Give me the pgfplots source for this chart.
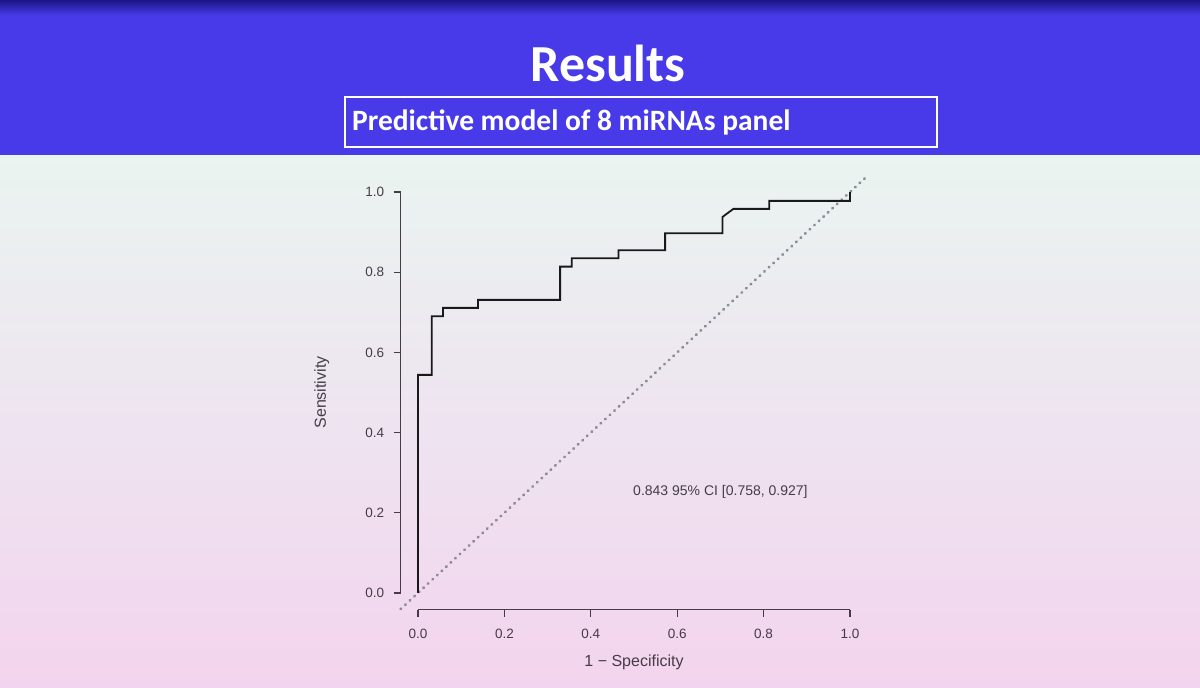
\documentclass[border=0pt]{standalone}
\usepackage{pgfplots}
\pgfplotsset{compat=1.18}
\usepackage{fontspec}
\setmainfont{Liberation Sans}
\newfontfamily\calibri{Carlito}
\definecolor{banner}{RGB}{72,58,232}
\definecolor{bannertop}{RGB}{40,30,190}
\definecolor{bgtop}{RGB}{234,244,240}
\definecolor{bgmid}{RGB}{238,228,240}
\definecolor{bgbot}{RGB}{243,212,238}
\definecolor{axgray}{RGB}{70,60,70}
\definecolor{dotgray}{RGB}{140,140,150}
\begin{document}
\begin{tikzpicture}[x=1pt,y=1pt]
\useasboundingbox (0,0) rectangle (1200,688);
% lower background
\shade[top color=bgtop, bottom color=bgbot, middle color=bgmid] (0,0) rectangle (1200,533);
% banner
\fill[banner] (0,533) rectangle (1200,673);
\shade[top color=bannertop!70!black, bottom color=banner] (0,673) rectangle (1200,688);
\node[anchor=base, text=white, font=\calibri\bfseries\fontsize{52}{60}\selectfont] at (608,606) {Results};
\draw[white, line width=2.5pt] (345,591) rectangle (937,541);
\node[anchor=base west, inner sep=0pt, text=white, font=\calibri\bfseries\fontsize{29.5}{33}\selectfont] at (352,557) {Predictive model of 8 miRNAs panel};
\begin{axis}[
  at={(400.7pt,78.2pt)}, anchor=south west,
  scale only axis, width=466.6pt, height=433.8pt,
  xmin=-0.04, xmax=1.04, ymin=-0.042, ymax=1.04,
  axis lines*=left, axis line style={draw=none},
  tick align=outside, major tick length=7pt,
  tick style={line width=1.2pt, color=axgray},
  xtick={0,0.2,0.4,0.6,0.8,1}, ytick={0,0.2,0.4,0.6,0.8,1},
  xticklabels={0.0,0.2,0.4,0.6,0.8,1.0},
  yticklabels={0.0,0.2,0.4,0.6,0.8,1.0},
  ticklabel style={font=\fontsize{13.5}{15}\selectfont, text=axgray},
  yticklabel style={xshift=-6pt},
  xticklabel style={yshift=-9pt},
  xlabel={1 − Specificity}, ylabel={Sensitivity},
  label style={font=\fontsize{16}{18}\selectfont, text=axgray},
  xlabel style={at={(axis cs:0.5,-0.042)}, anchor=center, yshift=-53pt},
  ylabel style={at={(axis cs:-0.04,0.5)}, anchor=center, yshift=79pt},
  clip=false,
]
\draw[axgray, line width=1.2pt] (axis cs:-0.04,0) -- (axis cs:-0.04,1);
\draw[axgray, line width=1.2pt] (axis cs:0,-0.042) -- (axis cs:1,-0.042);
\addplot[color=dotgray, line width=2.8pt, line cap=round, dash pattern=on 0.6pt off 5.6pt] coordinates {(-0.04,-0.04) (1.04,1.04)};
\addplot[black!90, line width=1.8pt] coordinates {
(0,0) (0,0.544) (0.032,0.544) (0.032,0.690) (0.058,0.690) (0.058,0.711)
(0.139,0.711) (0.139,0.731) (0.329,0.731) (0.329,0.814) (0.356,0.814)
(0.356,0.835) (0.464,0.835) (0.464,0.855) (0.572,0.855) (0.572,0.897)
(0.705,0.897) (0.705,0.938) (0.730,0.958) (0.813,0.958) (0.813,0.978)
(1.0,0.978) (1.0,1.0)};
\node[font=\fontsize{14}{16}\selectfont, text=axgray] at (axis cs:0.70,0.252) {0.843 95\% CI [0.758, 0.927]};
\end{axis}
\end{tikzpicture}
\end{document}
